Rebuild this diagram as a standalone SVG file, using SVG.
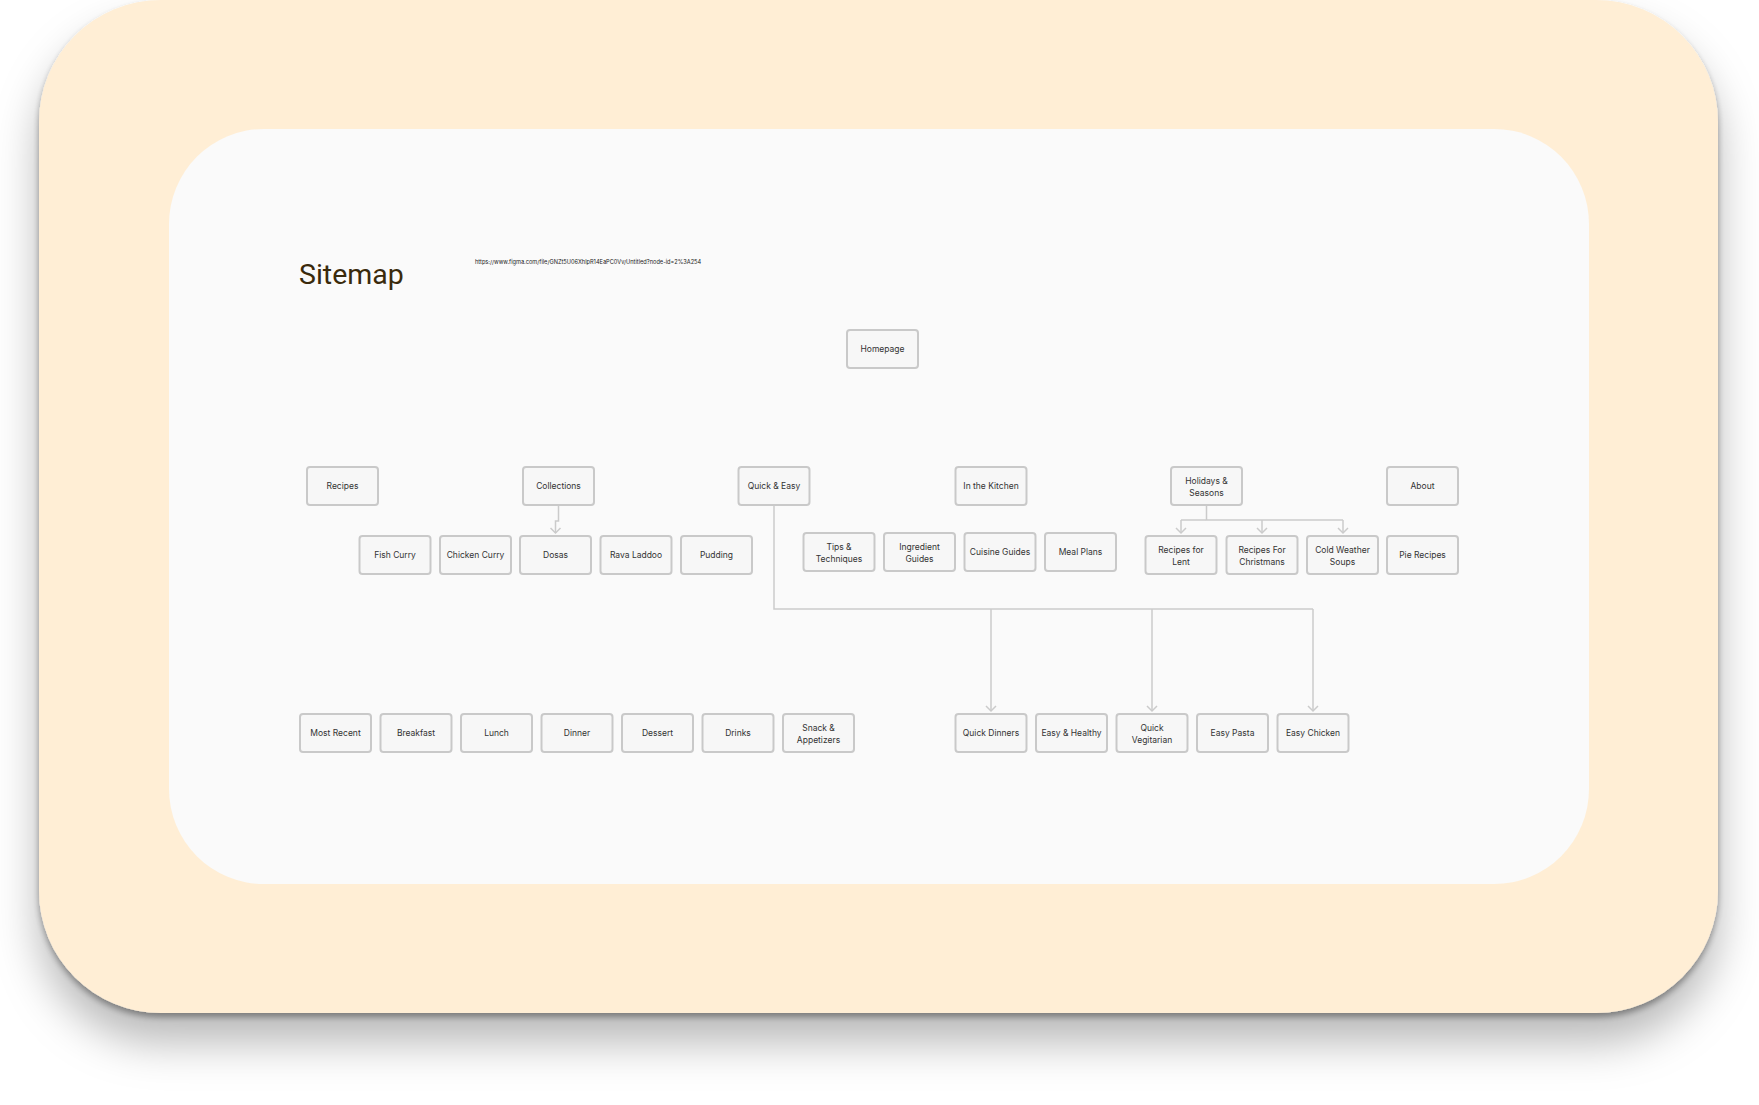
<svg xmlns="http://www.w3.org/2000/svg" width="1759" height="1105" viewBox="0 0 1759 1105">
  <style>
    .node rect { fill: #F7F7F7; stroke: #C9C9C9; stroke-width: 2; }
    .node text { font-family: Inter, "Noto Sans", "Liberation Sans", sans-serif; font-size: 8.5px; fill: #333333; text-anchor: middle; }
    .conn { fill: none; stroke: #CBCBCB; stroke-width: 1.5; }
    .title { font-family: Roboto, "Liberation Sans", sans-serif; font-size: 28.5px; fill: #3A2A0C; }
    .url { font-family: Inter, "Liberation Sans", sans-serif; font-size: 5.65px; fill: #222222; }
  </style>
  <defs>
    <filter id="cardShadow" x="-10%" y="-10%" width="120%" height="130%">
      <feDropShadow dx="0" dy="4" stdDeviation="3" flood-color="#000" flood-opacity="0.35"/>
      <feDropShadow dx="0" dy="28" stdDeviation="22" flood-color="#000" flood-opacity="0.28"/>
    </filter>
    <marker id="chev" viewBox="0 0 10 12" refX="6" refY="6" markerWidth="10" markerHeight="12" markerUnits="userSpaceOnUse" orient="auto">
      <path d="M1,1 L6,6 L1,11" fill="none" stroke="#CBCBCB" stroke-width="1.5"/>
    </marker>
  </defs>

  <rect width="1759" height="1105" fill="#FFFFFF"/>
  <!-- outer card -->
  <rect x="39" y="0" width="1679" height="1013" rx="122" fill="#FFEED5" filter="url(#cardShadow)"/>
  <!-- inner panel -->
  <rect x="169" y="129" width="1420" height="755" rx="95" fill="#FAFAFA"/>

  <text class="title" x="299" y="284">Sitemap</text>
  <text class="url" x="475" y="264">https://www.figma.com/file/GNZt5U06XhlpR14EaPC0Vv/Untitled?node-id=2%3A254</text>

  <!-- connectors -->
  <g id="connectors">
    <path class="conn" d="M558.5,505 V521 H555.5 V533" marker-end="url(#chev)"/>
    <path class="conn" d="M774,505 V609 H1313"/>
    <path class="conn" d="M991,609 V711" marker-end="url(#chev)"/>
    <path class="conn" d="M1152,609 V711" marker-end="url(#chev)"/>
    <path class="conn" d="M1313,609 V711" marker-end="url(#chev)"/>
    <path class="conn" d="M1206.5,505 V520 H1343"/>
    <path class="conn" d="M1181,520 H1206"/>
    <path class="conn" d="M1181,520 V533" marker-end="url(#chev)"/>
    <path class="conn" d="M1262,520 V533" marker-end="url(#chev)"/>
    <path class="conn" d="M1343,520 V533" marker-end="url(#chev)"/>
  </g>

  <!-- level 0 -->
  <g id="homepage" class="node"><rect x="847" y="330" width="71" height="38" rx="3"/><text x="882.5" y="352">Homepage</text></g>

  <!-- level 1 -->
  <g id="recipes" class="node"><rect x="307" y="467" width="71" height="38" rx="3"/><text x="342.5" y="489">Recipes</text></g>
  <g id="collections" class="node"><rect x="523" y="467" width="71" height="38" rx="3"/><text x="558.5" y="489">Collections</text></g>
  <g id="quick-easy" class="node"><rect x="738.5" y="467" width="71" height="38" rx="3"/><text x="774" y="489">Quick &amp; Easy</text></g>
  <g id="in-the-kitchen" class="node"><rect x="955.5" y="467" width="71" height="38" rx="3"/><text x="991" y="489">In the Kitchen</text></g>
  <g id="holidays-seasons" class="node"><rect x="1171" y="467" width="71" height="38" rx="3"/><text x="1206.5" y="483.5">Holidays &amp;</text><text x="1206.5" y="495.5">Seasons</text></g>
  <g id="about" class="node"><rect x="1387" y="467" width="71" height="38" rx="3"/><text x="1422.5" y="489">About</text></g>

  <!-- collections children -->
  <g id="fish-curry" class="node"><rect x="359.5" y="536" width="71" height="38" rx="3"/><text x="395" y="558">Fish Curry</text></g>
  <g id="chicken-curry" class="node"><rect x="440" y="536" width="71" height="38" rx="3"/><text x="475.5" y="558">Chicken Curry</text></g>
  <g id="dosas" class="node"><rect x="520" y="536" width="71" height="38" rx="3"/><text x="555.5" y="558">Dosas</text></g>
  <g id="rava-laddoo" class="node"><rect x="600.5" y="536" width="71" height="38" rx="3"/><text x="636" y="558">Rava Laddoo</text></g>
  <g id="pudding" class="node"><rect x="681" y="536" width="71" height="38" rx="3"/><text x="716.5" y="558">Pudding</text></g>

  <!-- kitchen children -->
  <g id="tips-techniques" class="node"><rect x="803.5" y="533" width="71" height="38" rx="3"/><text x="839" y="550">Tips &amp;</text><text x="839" y="562">Techniques</text></g>
  <g id="ingredient-guides" class="node"><rect x="884" y="533" width="71" height="38" rx="3"/><text x="919.5" y="550">Ingredient</text><text x="919.5" y="562">Guides</text></g>
  <g id="cuisine-guides" class="node"><rect x="964.5" y="533" width="71" height="38" rx="3"/><text x="1000" y="555">Cuisine Guides</text></g>
  <g id="meal-plans" class="node"><rect x="1045" y="533" width="71" height="38" rx="3"/><text x="1080.5" y="555">Meal Plans</text></g>

  <!-- holiday children -->
  <g id="recipes-lent" class="node"><rect x="1145.5" y="536" width="71" height="38" rx="3"/><text x="1181" y="552.5">Recipes for</text><text x="1181" y="564.5">Lent</text></g>
  <g id="recipes-christmans" class="node"><rect x="1226.5" y="536" width="71" height="38" rx="3"/><text x="1262" y="552.5">Recipes For</text><text x="1262" y="564.5">Christmans</text></g>
  <g id="cold-weather-soups" class="node"><rect x="1307" y="536" width="71" height="38" rx="3"/><text x="1342.5" y="552.5">Cold Weather</text><text x="1342.5" y="564.5">Soups</text></g>
  <g id="pie-recipes" class="node"><rect x="1387" y="536" width="71" height="38" rx="3"/><text x="1422.5" y="558">Pie Recipes</text></g>

  <!-- recipes row -->
  <g id="most-recent" class="node"><rect x="300" y="714" width="71" height="38" rx="3"/><text x="335.5" y="736">Most Recent</text></g>
  <g id="breakfast" class="node"><rect x="380.5" y="714" width="71" height="38" rx="3"/><text x="416" y="736">Breakfast</text></g>
  <g id="lunch" class="node"><rect x="461" y="714" width="71" height="38" rx="3"/><text x="496.5" y="736">Lunch</text></g>
  <g id="dinner" class="node"><rect x="541.5" y="714" width="71" height="38" rx="3"/><text x="577" y="736">Dinner</text></g>
  <g id="dessert" class="node"><rect x="622" y="714" width="71" height="38" rx="3"/><text x="657.5" y="736">Dessert</text></g>
  <g id="drinks" class="node"><rect x="702.5" y="714" width="71" height="38" rx="3"/><text x="738" y="736">Drinks</text></g>
  <g id="snack-appetizers" class="node"><rect x="783" y="714" width="71" height="38" rx="3"/><text x="818.5" y="730.5">Snack &amp;</text><text x="818.5" y="742.5">Appetizers</text></g>

  <!-- quick & easy children -->
  <g id="quick-dinners" class="node"><rect x="955.5" y="714" width="71" height="38" rx="3"/><text x="991" y="736">Quick Dinners</text></g>
  <g id="easy-healthy" class="node"><rect x="1036" y="714" width="71" height="38" rx="3"/><text x="1071.5" y="736">Easy &amp; Healthy</text></g>
  <g id="quick-vegitarian" class="node"><rect x="1116.5" y="714" width="71" height="38" rx="3"/><text x="1152" y="730.5">Quick</text><text x="1152" y="742.5">Vegitarian</text></g>
  <g id="easy-pasta" class="node"><rect x="1197" y="714" width="71" height="38" rx="3"/><text x="1232.5" y="736">Easy Pasta</text></g>
  <g id="easy-chicken" class="node"><rect x="1277.5" y="714" width="71" height="38" rx="3"/><text x="1313" y="736">Easy Chicken</text></g>
</svg>
